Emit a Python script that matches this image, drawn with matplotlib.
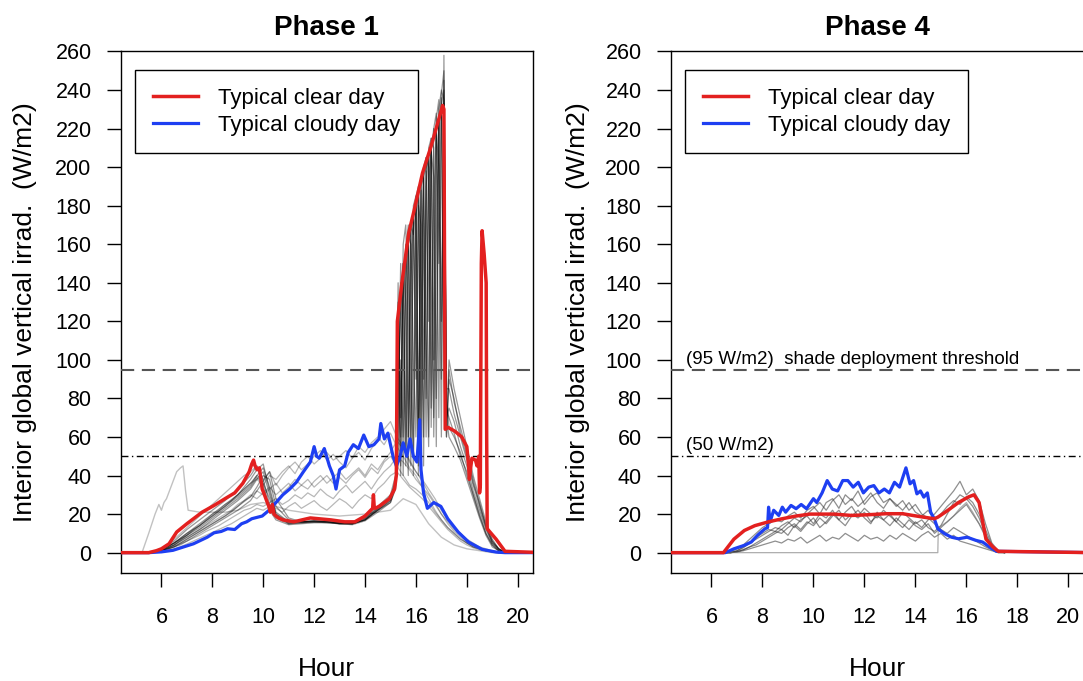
import matplotlib
matplotlib.use("Agg")
import matplotlib.pyplot as plt
from matplotlib.lines import Line2D

plt.rcParams['font.family'] = ['Liberation Sans', 'DejaVu Sans']
plt.rcParams['lines.scale_dashes'] = False

# ---------------- data ----------------
titles = ["Phase 1", "Phase 4"]
x_label = "Hour"
y_label = "Interior global vertical irrad.  (W/m2)"
legend_labels = ["Typical clear day", "Typical cloudy day"]
x_ticks = [6, 8, 10, 12, 14, 16, 18, 20]
y_ticks = [0, 20, 40, 60, 80, 100, 120, 140, 160, 180, 200, 220, 240, 260]
threshold_shade = 95
threshold_low = 50
threshold_shade_text = "(95 W/m2)  shade deployment threshold"
threshold_low_text = "(50 W/m2)"

# Phase 1 typical clear day (red)
p1_red_hours = [4.0, 5.5, 5.8, 6.0, 6.3, 6.6, 7.0, 7.26, 7.6, 8.07, 8.5, 8.88, 9.2, 9.45, 9.55,
                9.62, 9.68, 9.76, 9.85, 9.96, 10.05, 10.16, 10.22, 10.28, 10.36, 10.42, 10.5, 10.6,
                10.77, 11.2, 11.85, 12.66, 13.2, 13.6, 14.0, 14.3, 14.33, 14.36, 14.4, 14.55, 14.96,
                15.16, 15.23, 15.27, 15.45, 15.72, 15.92, 16.26, 16.6, 17.05, 17.1, 17.15, 17.26,
                17.53, 17.8, 18.0, 18.07, 18.1, 18.15, 18.2, 18.34, 18.4, 18.47, 18.5, 18.53, 18.57,
                18.6, 18.68, 18.76, 18.78, 18.8, 19.15, 19.5, 21.0]
p1_red_vals = [0, 0, 1, 2, 4.6, 10.7, 15, 17.6, 21, 24.5, 28, 31, 36, 42, 46,
               48, 45, 43, 44, 33, 30, 26, 24, 21, 25, 20, 19, 18,
               17, 16, 18, 17, 16, 16, 19, 23, 30, 24, 23, 24, 28,
               33, 40, 120, 140, 166, 177, 197, 211, 232, 230, 64, 65,
               63, 60, 55, 45, 38, 44, 49, 48, 45, 50, 31, 35, 150,
               167, 155, 140, 60, 12.4, 7, 0.7, 0]

# Phase 1 typical cloudy day (blue)
p1_blue_hours = [4.0, 5.5, 6.0, 6.45, 7.26, 7.8, 8.07, 8.35, 8.6, 8.88, 9.15, 9.35, 9.55, 9.96,
                 10.23, 10.5, 10.77, 11.04, 11.3, 11.58, 11.85, 12.0, 12.1, 12.2, 12.4, 12.6,
                 12.75, 12.86, 13.0, 13.2, 13.34, 13.54, 13.74, 13.95, 14.15, 14.35, 14.55, 14.62,
                 14.76, 14.9, 15.1, 15.23, 15.36, 15.5, 15.64, 15.77, 15.9, 16.04, 16.15, 16.2,
                 16.3, 16.45, 16.7, 16.98, 17.25, 17.66, 18.07, 18.6, 19.15, 19.5, 21.0]
p1_blue_vals = [0, 0, 0.4, 1.2, 4.6, 8, 10.3, 11, 12.4, 12, 15, 16, 17.6, 19,
                22, 26, 30, 33, 36.5, 42, 47, 55, 50, 49, 54, 45,
                40, 33, 43, 45, 52, 56, 54, 61, 55, 56, 59, 67,
                59, 62, 50, 45, 49, 57, 50, 59, 50, 47, 69, 43,
                31, 23, 26, 24, 17.6, 10.7, 5.5, 1.7, 0.3, 0, 0]

# Phase 1 clear-type daily traces (grey): morning + afternoon peak + evening
p1_clear_hours = [5.0, 5.5, 6.0, 6.5, 7.0, 7.5, 8.0, 8.5, 9.0, 9.5, 9.75, 10.0, 10.25, 10.5,
                  11.0, 11.5, 12.0, 12.5, 13.0, 13.5, 14.0, 14.5, 15.0, 15.2,
                  15.3, 15.4, 15.5, 15.6, 15.7, 15.8, 15.9, 16.0, 16.1, 16.2, 16.3, 16.4, 16.5,
                  16.6, 16.7, 16.8, 16.9, 17.0, 17.1, 17.2,
                  17.3, 17.5, 17.75, 18.0, 18.25, 18.5, 18.75, 19.0, 19.25, 19.5, 20.0, 20.5]
p1_clear_morning = [
    [0, 0, 1.5, 5, 10, 15, 20, 25, 30, 36, 40, 38, 25, 18, 15, 15.5, 16, 16, 15, 15, 17, 22, 27, 35],
    [0, 0, 1, 4, 8, 12, 17, 22, 27, 33, 38, 42, 30, 20, 16, 16, 16.5, 16, 15.5, 15.5, 18, 23, 28, 38],
    [0, 0, 2, 6, 12, 17, 22, 27, 33, 40, 45, 35, 22, 17, 14.5, 15, 15.5, 15.5, 15, 15, 17, 22, 26, 34],
    [0, 0, 1, 3, 7, 11, 15, 19, 24, 29, 34, 40, 38, 24, 17, 16, 16, 16, 15.5, 15, 17.5, 23, 29, 36],
    [0, 0, 1.5, 5, 9, 13, 18, 23, 28, 34, 39, 36, 28, 19, 15.5, 16, 16.5, 16.5, 16, 15.5, 18, 24, 30, 40],
    [0, 0, 1, 4, 9, 14, 19, 24, 30, 38, 43, 46, 32, 20, 15, 15.5, 16, 15.5, 15, 14.5, 16.5, 21, 26, 33],
    [0, 0, 1, 3, 6, 10, 14, 18, 22, 27, 32, 37, 42, 28, 18, 16, 16, 16, 15, 15, 17, 22, 27, 35],
    [0, 0, 1.5, 5, 10, 14, 19, 24, 29, 35, 40, 44, 34, 21, 16, 16, 16.5, 16, 15.5, 15, 17, 22.5, 28, 37],
]
p1_clear_peak = [
    [110, 45, 150, 130, 60, 170, 175, 90, 190, 50, 200, 205, 120, 215, 210, 80, 230, 240, 235, 70],
    [60, 140, 40, 155, 170, 55, 180, 185, 70, 195, 150, 60, 210, 215, 100, 225, 235, 90, 245, 60],
    [130, 70, 145, 50, 165, 160, 40, 185, 190, 130, 60, 205, 200, 75, 220, 228, 150, 238, 250, 80],
    [90, 125, 150, 75, 40, 170, 165, 180, 45, 190, 195, 110, 55, 210, 220, 215, 70, 232, 240, 65],
    [45, 100, 60, 140, 165, 90, 50, 175, 185, 60, 195, 200, 205, 65, 180, 220, 226, 120, 233, 75],
    [140, 60, 160, 170, 120, 45, 175, 110, 40, 188, 90, 198, 60, 208, 195, 55, 225, 230, 110, 85],
    [70, 150, 110, 45, 160, 168, 100, 60, 180, 170, 45, 190, 208, 140, 70, 218, 200, 60, 258, 70],
    [100, 40, 130, 160, 60, 140, 175, 182, 50, 120, 200, 80, 190, 212, 60, 160, 222, 236, 90, 60],
]
p1_clear_evening = [
    [75, 68, 55, 45, 32, 22, 12, 5, 2, 0, 0, 0],
    [90, 80, 62, 50, 38, 25, 14, 6, 2, 0, 0, 0],
    [65, 60, 52, 40, 30, 20, 10, 4, 1, 0, 0, 0],
    [100, 85, 70, 55, 40, 28, 16, 7, 2, 0.5, 0, 0],
    [70, 62, 50, 42, 30, 19, 10, 4, 1, 0, 0, 0],
    [85, 72, 60, 48, 35, 24, 13, 5, 1.5, 0, 0, 0],
    [60, 55, 48, 38, 28, 18, 9, 3, 1, 0, 0, 0],
    [95, 78, 65, 52, 36, 26, 14, 6, 2, 0, 0, 0],
]

# Phase 1 cloudy-type daily traces (grey)
p1_cloudy_hours = [5.0, 5.5, 5.75, 6.0, 6.25, 6.5, 6.75, 7.0, 7.25, 7.5, 7.75, 8.0, 8.25, 8.5,
                   8.75, 9.0, 9.25, 9.5, 9.75, 10.0, 10.25, 10.5, 10.75, 11.0, 11.25, 11.5, 11.75,
                   12.0, 12.25, 12.5, 12.75, 13.0, 13.25, 13.5, 13.75, 14.0, 14.25, 14.5, 14.75,
                   15.0, 15.25, 15.5, 15.75, 16.0, 16.25, 16.5, 16.75, 17.0, 17.25, 17.5, 17.75,
                   18.0, 18.25, 18.5, 18.75, 19.0, 19.25, 19.5, 19.75, 20.5]
p1_cloudy_traces = [
    [0, 0, 0.5, 1.5, 3, 5, 7, 9, 12, 14, 17, 20, 22, 25, 27, 30, 33, 36, 38, 35, 40, 38, 42, 45, 41,
     47, 50, 46, 49, 52, 48, 50, 53, 49, 55, 52, 57, 60, 56, 62, 55, 50, 44, 40, 34, 28, 22, 17, 13,
     10, 7, 5, 3, 2, 1, 0.5, 0, 0, 0, 0],
    [0, 0, 0.3, 1, 2, 3.5, 5, 7, 9, 11, 13, 15, 17, 19, 21, 24, 27, 29, 32, 30, 33, 36, 31, 34, 38,
     35, 33, 37, 40, 36, 39, 42, 38, 41, 44, 40, 46, 43, 48, 52, 58, 54, 48, 42, 37, 31, 26, 20, 15,
     11, 8, 5, 3, 2, 1, 0.5, 0, 0, 0, 0],
    [0, 0, 0.2, 0.8, 1.5, 3, 4, 6, 7.5, 9, 11, 12.5, 14, 16, 18, 20, 22, 23, 25, 24, 26, 28, 25, 27,
     30, 28, 31, 29, 33, 30, 28, 32, 35, 31, 34, 37, 33, 38, 42, 45, 50, 47, 43, 38, 34, 30, 25, 20,
     16, 12, 9, 6, 4, 2.5, 1.5, 0.5, 0, 0, 0, 0],
    [0, 0, 0.5, 2, 4, 7, 10, 13, 16, 19, 22, 25, 28, 31, 34, 37, 40, 42, 45, 38, 42, 35, 40, 44, 47,
     43, 46, 50, 53, 48, 51, 47, 44, 49, 52, 48, 54, 58, 64, 68, 60, 55, 47, 42, 38, 33, 28, 22, 17,
     13, 10, 7, 5, 3, 2, 1, 0.3, 0, 0, 0],
    [0, 0, 0.3, 1, 2.5, 4, 6, 8, 10, 12, 14, 16, 18, 20, 22, 25, 27, 30, 28, 31, 34, 30, 33, 36, 32,
     35, 38, 34, 37, 40, 36, 39, 36, 40, 43, 39, 44, 41, 47, 50, 45, 40, 35, 33, 30, 26, 21, 17, 13,
     10, 7, 5, 3, 2, 1, 0.5, 0, 0, 0, 0],
    [0, 0, 0.2, 0.5, 1, 2, 3, 4.5, 6, 7.5, 9, 10.5, 12, 13.5, 15, 17, 19, 21, 23, 22, 24, 23, 21, 24,
     26, 23, 25, 27, 24, 22, 25, 28, 26, 23, 27, 30, 28, 33, 36, 40, 42, 38, 34, 31, 28, 24, 20, 16,
     12, 9, 6, 4, 2.5, 1.5, 1, 0.3, 0, 0, 0, 0],
]

# Phase 1 early light trace
p1_light_hours = [5.0, 5.25, 5.5, 5.75, 5.9, 6.0, 6.1, 6.2, 6.4, 6.6, 6.75, 6.85, 6.95, 7.05, 7.5,
                  8.0, 8.5, 9.0, 9.5, 10.0, 10.5, 11.0, 12.0, 13.0, 14.0, 15.0, 15.5, 16.0, 16.5,
                  17.0, 17.5, 18.0, 18.5, 19.0, 20.5]
p1_light_vals = [0, 0.5, 10, 20, 25, 22, 26, 28, 35, 42, 44, 45, 32, 22, 21,
                 21, 21, 22, 25, 26, 24, 22, 20, 19, 20, 22, 28, 25, 15,
                 8, 4, 2, 1, 0, 0]

# Phase 4 typical clear day (red)
p4_red_hours = [4.0, 6.47, 6.88, 7.29, 7.7, 8.24, 8.78, 9.32, 9.86, 10.8, 11.5, 12.2, 12.84, 13.5,
                13.9, 14.33, 14.74, 14.88, 15.28, 15.69, 16.1, 16.3, 16.5, 16.64, 16.77, 17.04,
                17.25, 21.0]
p4_red_vals = [0, 0, 7, 11.5, 14, 16, 17.6, 19, 20, 20, 19.3, 19.7, 20.2, 20.2,
               19.3, 18.4, 17.6, 18.4, 22, 26, 29, 30, 26, 16, 7, 3,
               0.7, 0]

# Phase 4 typical cloudy day (blue)
p4_blue_hours = [4.0, 6.54, 6.88, 7.29, 7.56, 7.83, 8.1, 8.2, 8.24, 8.3, 8.44, 8.64, 8.78, 8.91,
                 9.12, 9.32, 9.52, 9.73, 10.0, 10.13, 10.34, 10.54, 10.74, 10.95, 11.15, 11.35,
                 11.56, 11.76, 11.96, 12.17, 12.37, 12.57, 12.78, 12.98, 13.18, 13.38, 13.63,
                 13.79, 13.93, 14.06, 14.2, 14.33, 14.47, 14.6, 14.74, 14.88, 15.15, 15.42,
                 15.69, 16.03, 16.37, 16.64, 16.9, 17.18, 21.0]
p4_blue_vals = [0, 0, 2, 3.8, 5.5, 9.3, 12.4, 13, 23.6, 16, 22, 19.3, 23.6, 21,
                24.5, 22.8, 25, 22.8, 28, 26, 31, 37.4, 33, 32, 37.4, 37.4,
                34, 36.5, 31, 34, 34.8, 31, 33, 31, 36.5, 34, 44,
                35.7, 37.4, 30.5, 32, 28.8, 31, 21, 17.6, 12.4, 9.8, 8,
                7.2, 8, 6.4, 5.5, 3, 0.7, 0]

# Phase 4 daily traces (grey)
p4_hours = [6.5, 6.75, 7.0, 7.25, 7.5, 7.75, 8.0, 8.25, 8.5, 8.75, 9.0, 9.25, 9.5, 9.75, 10.0,
            10.25, 10.5, 10.75, 11.0, 11.25, 11.5, 11.75, 12.0, 12.25, 12.5, 12.75, 13.0, 13.25,
            13.5, 13.75, 14.0, 14.25, 14.5, 14.75, 15.0, 15.25, 15.5, 15.75, 16.0, 16.25, 16.5,
            16.75, 17.0, 17.25, 17.5]
p4_traces = [
    [0, 0.5, 2, 4, 7, 10, 13, 15, 17, 16, 19, 21, 18, 22, 24, 20, 26, 28, 23, 30, 27, 32, 25, 29, 31,
     26, 28, 24, 27, 22, 25, 20, 18, 15, 12, 10, 13, 11, 9, 7, 5, 3, 1.5, 0, 0],
    [0, 0, 1, 2.5, 5, 8, 10, 12, 11, 14, 16, 13, 17, 19, 15, 20, 18, 22, 17, 21, 24, 19, 23, 20, 18,
     22, 19, 16, 21, 18, 15, 17, 13, 11, 14, 20, 26, 30, 28, 24, 18, 10, 3, 0.5, 0],
    [0, 0, 0.5, 1.5, 3, 5, 7, 9, 11, 10, 13, 15, 12, 16, 14, 18, 15, 19, 22, 17, 20, 18, 21, 16, 19,
     17, 14, 18, 15, 12, 16, 13, 17, 20, 24, 28, 32, 37, 30, 33, 27, 15, 5, 1, 0],
    [0, 0, 0.3, 1, 2, 3, 4, 5, 6, 5, 7, 6, 8, 5, 7, 9, 6, 8, 7, 10, 8, 6, 9, 7, 8,
     6, 9, 7, 10, 8, 6, 9, 11, 8, 10, 7, 9, 6, 5, 4, 3, 2, 1, 0, 0],
    [0, 0, 0.5, 1.5, 3, 4, 6, 8, 10, 12, 9, 14, 11, 15, 18, 13, 16, 20, 17, 14, 19, 22, 18, 15, 21,
     17, 20, 16, 13, 17, 14, 12, 15, 10, 13, 16, 19, 22, 25, 20, 15, 9, 3, 0.5, 0],
    [0, 0, 1, 3, 5, 7, 9, 11, 13, 12, 15, 18, 16, 20, 23, 26, 22, 27, 30, 25, 28, 24, 27, 31, 26,
     23, 28, 25, 22, 26, 21, 19, 22, 17, 20, 24, 27, 25, 29, 26, 20, 12, 4, 1, 0],
]
p4_late_hours = [6.5, 8.0, 14.88, 14.9, 15.25, 15.5, 15.75, 16.0, 16.25, 16.5, 16.75, 17.0, 17.25, 17.5]
p4_late_vals = [0, 0, 0, 13, 16, 19, 23, 26, 21, 15, 8, 3, 0.5, 0]

# ---------------- styling ----------------
RED = '#E3201F'
BLUE = '#1E3FF2'
W, H = 1083, 681
fig = plt.figure(figsize=(W / 100, H / 100), dpi=100)


def px_axes(l, t, r, b):
    return fig.add_axes([l / W, 1 - b / H, (r - l) / W, (b - t) / H])


ax1 = px_axes(120.7, 50.7, 533.0, 572.7)
ax2 = px_axes(670.7, 50.7, 1083.6, 572.7)

# Phase 1 grey traces
ax1.plot(p1_light_hours, p1_light_vals, color='#bbbbbb', lw=1.0, alpha=0.9, zorder=1)
for m, p, e in zip(p1_clear_morning, p1_clear_peak, p1_clear_evening):
    ax1.plot(p1_clear_hours, m + p + e, color='black', lw=0.9, alpha=0.4, zorder=2)
for tr in p1_cloudy_traces:
    ax1.plot(p1_cloudy_hours, tr, color='black', lw=0.9, alpha=0.28, zorder=2)

# Phase 4 grey traces
for tr in p4_traces:
    ax2.plot(p4_hours, tr, color='#333333', lw=0.9, alpha=0.55, zorder=2)
ax2.plot(p4_late_hours, p4_late_vals, color='#777777', lw=0.9, alpha=0.6, zorder=2)

for ax in (ax1, ax2):
    ax.axhline(threshold_shade, color='#555555', lw=1.5, dashes=(9.5, 5.5), zorder=3)
    ax.axhline(threshold_low, color='black', lw=1.0, dashes=(5, 2.5, 1, 2.5), zorder=3)

ax1.plot(p1_blue_hours, p1_blue_vals, color=BLUE, lw=2.3, zorder=4)
ax1.plot(p1_red_hours, p1_red_vals, color=RED, lw=2.5, zorder=5)
ax2.plot(p4_blue_hours, p4_blue_vals, color=BLUE, lw=2.3, zorder=4)
ax2.plot(p4_red_hours, p4_red_vals, color=RED, lw=2.5, zorder=5)

ax2.annotate(threshold_shade_text, xy=(5.0, threshold_shade), xytext=(0, 7.5),
             textcoords='offset points', ha='left', va='center', fontsize=13.5, zorder=6)
ax2.annotate(threshold_low_text, xy=(5.0, threshold_low), xytext=(0, 7.5),
             textcoords='offset points', ha='left', va='center', fontsize=13.5, zorder=6)

for ax, title in zip((ax1, ax2), titles):
    ax.set_xlim(4.4, 20.6)
    ax.set_ylim(-10.4, 260.4)
    ax.set_xticks(x_ticks)
    ax.set_yticks(y_ticks)
    ax.tick_params(axis='both', direction='out', length=10, width=1.0, labelsize=15.5,
                   colors='black')
    ax.tick_params(axis='y', pad=11)
    ax.tick_params(axis='x', pad=15)
    for s in ax.spines.values():
        s.set_linewidth(1.0)
        s.set_color('black')
    ax.text(0.5, 1.044, title, transform=ax.transAxes, ha='center', va='center',
            fontsize=20, fontweight='bold')
    ax.set_xlabel(x_label, fontsize=19, va='center')
    ax.xaxis.set_label_coords(0.5, -0.1845)
    ax.set_ylabel(y_label, fontsize=19, va='center')
    handles = [Line2D([], [], color=RED, lw=2.5), Line2D([], [], color=BLUE, lw=2.3)]
    leg = ax.legend(handles, legend_labels, loc='upper left',
                    bbox_to_anchor=(14.5 / 412.3, (572.7 - 70) / 522.0),
                    borderaxespad=0, fontsize=16, handlelength=2.05, handletextpad=0.9,
                    borderpad=0.79, labelspacing=0.28, fancybox=False, framealpha=1,
                    edgecolor='black')
    leg.get_frame().set_linewidth(1.0)
    leg.set_zorder(10)

ax1.yaxis.set_label_coords((25 - 120.7) / 412.3, 0.5)
ax2.yaxis.set_label_coords((578 - 670.7) / 412.9, 0.5)

fig.savefig('out.png', dpi=100)
